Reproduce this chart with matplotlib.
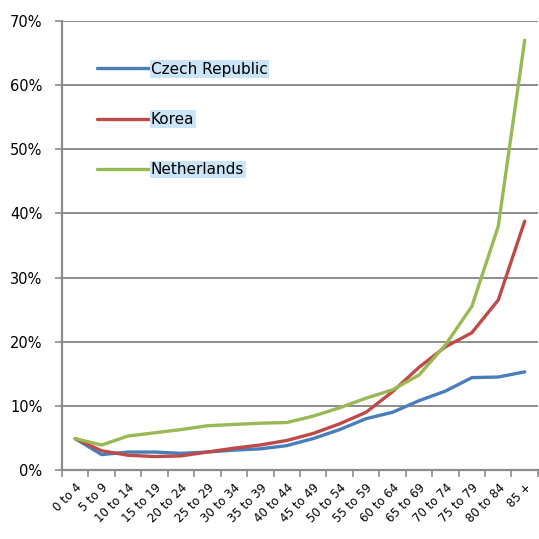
import matplotlib.pyplot as plt
import numpy as np
from matplotlib.ticker import FixedLocator, PercentFormatter

age_groups = ["0 to 4", "5 to 9", "10 to 14", "15 to 19", "20 to 24", "25 to 29",
              "30 to 34", "35 to 39", "40 to 44", "45 to 49", "50 to 54", "55 to 59",
              "60 to 64", "65 to 69", "70 to 74", "75 to 79", "80 to 84", "85 +"]

czech = [4.9, 2.4, 2.8, 2.8, 2.6, 2.8, 3.1, 3.3, 3.8, 4.9, 6.3, 8.0,
         9.0, 10.8, 12.3, 14.4, 14.5, 15.3]
korea = [4.9, 3.0, 2.3, 2.1, 2.2, 2.8, 3.4, 3.9, 4.6, 5.7, 7.2, 9.0,
         12.2, 16.0, 19.2, 21.4, 26.5, 38.8]
netherlands = [4.9, 3.9, 5.3, 5.8, 6.3, 6.9, 7.1, 7.3, 7.4, 8.4, 9.7, 11.2,
               12.5, 14.8, 19.5, 25.5, 38.0, 67.0]

series = {"Czech Republic": (czech, "#4a7ebb"),
          "Korea": (korea, "#be4b48"),
          "Netherlands": (netherlands, "#98b954")}

fig = plt.figure(figsize=(5.39, 5.39), dpi=100)
ax = fig.add_axes([0.115, 0.128, 0.883, 0.833])

x = np.arange(len(age_groups))
for name, (vals, col) in series.items():
    ax.plot(x, vals, color=col, lw=2.4, label=name, solid_capstyle="round")

ax.set_xlim(-0.5, len(age_groups) - 0.5)
ax.set_ylim(0, 70)
ax.set_yticks(np.arange(0, 71, 10))
ax.yaxis.set_major_formatter(PercentFormatter(decimals=0))
ax.grid(axis="y", color="#8c8c8c", lw=1.4)
ax.set_axisbelow(True)

ax.set_xticks(x)
ax.set_xticklabels(age_groups, rotation=45, ha="right", rotation_mode="anchor",
                   fontsize=8.5)
ax.xaxis.set_minor_locator(FixedLocator(np.arange(-0.5, len(age_groups), 1)))
ax.tick_params(axis="x", which="major", length=0, pad=8)
ax.tick_params(axis="x", which="minor", length=5, width=1.2, color="#8c8c8c")
ax.tick_params(axis="y", length=5, width=1.2, color="#8c8c8c", labelsize=10.5, pad=9)

for side in ["top", "right"]:
    ax.spines[side].set_visible(False)
for side in ["left", "bottom"]:
    ax.spines[side].set_color("#8c8c8c")
    ax.spines[side].set_linewidth(1.6)

leg = ax.legend(loc="upper left", bbox_to_anchor=(0.044, 0.94), frameon=False,
                handlelength=3.4, handletextpad=0.15, labelspacing=2.3,
                fontsize=11)
for t in leg.get_texts():
    t.set_bbox(dict(facecolor="#cce4f7", edgecolor="none", pad=1))

fig.savefig("out.png", dpi=100)
